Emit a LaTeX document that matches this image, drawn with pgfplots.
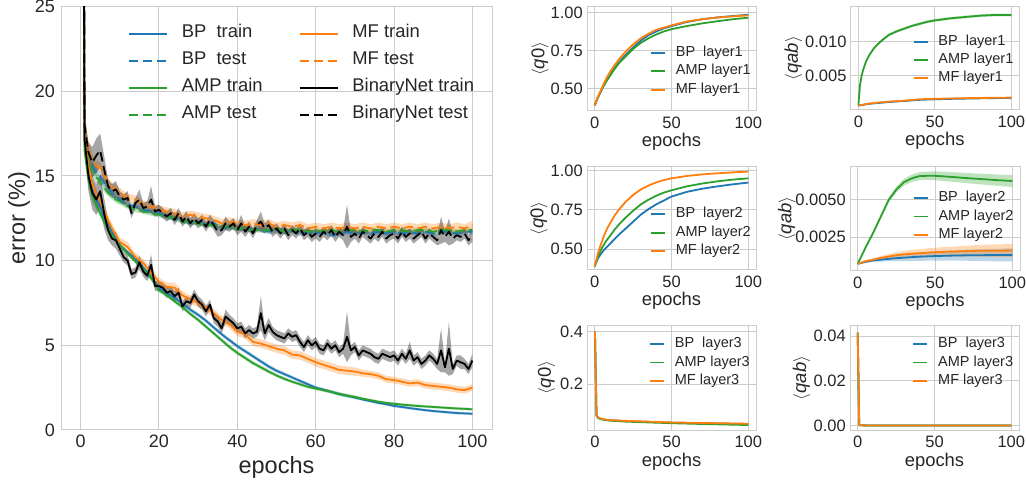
\documentclass[border=0pt]{standalone}
\usepackage{pgfplots}
\pgfplotsset{compat=1.18}
\usepackage{pgfplotstable}
\usepgfplotslibrary{fillbetween}
\usepackage{fontspec}
\setmainfont{Liberation Sans}
\definecolor{cBP}{HTML}{1F77B4}
\definecolor{cMF}{HTML}{FF7F0E}
\definecolor{cAMP}{HTML}{2CA02C}
\definecolor{gridc}{HTML}{CCCCCC}
\definecolor{tickc}{HTML}{262626}

% BinaryNet: epoch, train mean, train std, test mean, test std
\pgfplotstableread{
e tr trs te tes
0 90 0 90 0
1 17.2 0.8 18.0 0.8
2 15.0 0.9 16.4 0.6
3 14.0 1.0 15.8 0.9
4 13.6 0.9 16.2 1.0
5 14.1 1.0 16.5 1.0
6 12.8 0.9 15.4 0.8
7 11.8 0.6 14.4 0.4
8 11.3 0.4 14.1 0.4
9 11.2 0.5 14.2 0.5
10 10.7 0.4 13.8 0.3
11 10.2 0.3 13.6 0.3
12 10.0 0.3 13.7 0.4
13 9.2 0.3 12.8 0.3
14 9.3 0.3 13.4 0.3
15 9.9 0.4 13.6 0.6
16 9.35 0.3 13.1 0.3
17 9.1 0.3 13.2 0.3
18 9.75 0.6 13.6 0.8
19 8.5 0.3 12.9 0.3
20 8.5 0.3 13.0 0.3
21 8.4 0.3 12.8 0.3
22 8.1 0.3 12.6 0.3
23 8.2 0.3 12.8 0.3
24 7.9 0.3 12.4 0.3
25 8.1 0.3 12.8 0.3
26 7.3 0.3 12.3 0.3
27 7.6 0.3 12.6 0.3
28 7.5 0.3 12.2 0.3
29 8.0 0.3 12.5 0.3
30 7.6 0.3 12.2 0.3
31 7.4 0.3 12.4 0.3
32 7.0 0.3 12.0 0.3
33 7.4 0.3 12.4 0.3
34 6.6 0.3 12.1 0.3
35 6.4 0.3 11.7 0.3
36 6.0 0.3 11.8 0.3
37 6.7 0.4 12.2 0.4
38 6.5 0.3 12.0 0.3
39 6.3 0.3 12.2 0.3
40 6.0 0.3 11.8 0.3
41 6.1 0.3 12.2 0.5
42 5.7 0.3 11.7 0.3
43 5.9 0.3 12.0 0.3
44 5.7 0.3 11.6 0.3
45 5.8 0.3 12.1 0.3
46 6.9 1.0 12.3 0.6
47 5.7 0.4 11.9 0.3
48 6.2 0.4 12.1 0.3
49 5.8 0.3 11.7 0.3
50 5.6 0.3 11.9 0.3
51 5.5 0.3 11.6 0.3
52 5.4 0.3 11.9 0.3
53 5.7 0.3 11.5 0.3
54 5.5 0.3 11.8 0.3
55 5.6 0.3 11.6 0.3
56 5.2 0.3 11.9 0.3
57 4.9 0.3 11.5 0.3
58 5.3 0.3 11.7 0.3
59 5.0 0.3 11.4 0.3
60 5.2 0.3 11.6 0.3
61 4.8 0.3 11.4 0.3
62 4.7 0.3 11.7 0.3
63 5.1 0.3 11.5 0.3
64 4.8 0.3 11.8 0.3
65 5.0 0.3 11.4 0.3
66 4.6 0.3 11.7 0.3
67 4.8 0.3 11.5 0.3
68 5.5 1.5 12.0 1.3
69 4.7 0.3 11.4 0.3
70 4.9 0.3 11.6 0.3
71 4.4 0.3 11.3 0.3
72 4.7 0.3 11.7 0.3
73 4.6 0.3 11.5 0.3
74 4.5 0.3 11.3 0.3
75 4.3 0.3 11.6 0.3
76 4.2 0.3 11.4 0.3
77 4.5 0.3 11.7 0.3
78 4.4 0.3 11.3 0.3
79 4.3 0.3 11.5 0.3
80 4.4 0.3 11.6 0.3
81 4.1 0.3 11.3 0.3
82 4.5 0.3 11.7 0.3
83 4.2 0.3 11.4 0.3
84 4.7 0.5 11.6 0.3
85 4.1 0.3 11.3 0.3
86 4.3 0.3 11.5 0.3
87 3.9 0.3 11.7 0.3
88 4.1 0.3 11.3 0.3
89 4.4 0.3 11.6 0.3
90 4.2 0.3 11.4 0.3
91 3.9 0.3 11.2 0.3
92 4.7 1.3 11.8 0.8
93 3.7 0.3 11.4 0.3
94 4.8 1.6 11.7 0.8
95 3.6 0.3 11.3 0.3
96 4.1 0.3 11.5 0.3
97 4.0 0.4 11.4 0.3
98 3.9 0.3 11.6 0.3
99 3.6 0.3 11.2 0.3
100 4.1 0.4 11.5 0.4
}\bnet

\pgfplotstableread{
e tr trs te tes
0 90 0 90 0
1 17.0 0.4 17.8 0.4
2 15.2 0.35 16.3 0.35
3 14.2 0.3 15.6 0.3
4 13.6 0.3 15.2 0.3
5 13.2 0.25 15.0 0.25
6 12.6 0.2 14.6 0.25
7 12.1 0.2 14.3 0.2
8 11.7 0.2 14.0 0.2
9 11.3 0.15 13.8 0.2
10 10.9 0.15 13.6 0.2
12 10.5 0.12 13.3 0.15
14 10.1 0.12 13.2 0.15
16 9.6 0.12 13.0 0.15
18 9.0 0.12 12.9 0.15
20 8.4 0.12 12.8 0.15
22 8.1 0.12 12.6 0.15
24 7.8 0.12 12.5 0.15
26 7.45 0.12 12.4 0.15
28 7.1 0.12 12.2 0.15
30 6.8 0.12 12.3 0.15
32 6.45 0.12 12.1 0.15
34 6.05 0.12 12.2 0.15
36 5.65 0.12 11.9 0.15
38 5.3 0.12 12.0 0.15
40 4.95 0.12 11.9 0.15
42 4.65 0.12 11.9 0.15
44 4.35 0.12 11.8 0.15
46 4.05 0.12 11.9 0.15
48 3.75 0.12 11.7 0.15
50 3.5 0.12 11.8 0.15
52 3.3 0.1 11.7 0.15
54 3.1 0.1 11.8 0.15
56 2.9 0.1 11.6 0.15
58 2.7 0.1 11.7 0.15
60 2.5 0.1 11.6 0.15
62 2.38 0.1 11.7 0.15
64 2.25 0.1 11.5 0.15
66 2.12 0.1 11.6 0.15
68 2.02 0.1 11.7 0.15
70 1.92 0.1 11.6 0.15
72 1.8 0.08 11.7 0.15
74 1.7 0.08 11.6 0.15
76 1.6 0.08 11.7 0.15
78 1.52 0.08 11.6 0.15
80 1.42 0.08 11.7 0.15
82 1.36 0.08 11.6 0.15
84 1.29 0.08 11.7 0.15
86 1.23 0.08 11.6 0.15
88 1.17 0.08 11.7 0.15
90 1.12 0.08 11.6 0.15
92 1.08 0.08 11.7 0.15
94 1.04 0.08 11.7 0.15
96 1.0 0.08 11.6 0.15
98 0.98 0.08 11.7 0.15
100 0.96 0.08 11.7 0.15
}\bp

\pgfplotstableread{
e tr trs te tes
0 90 0 90 0
1 16.5 0.4 17.5 0.4
2 14.8 0.35 16.0 0.35
3 13.8 0.3 15.3 0.3
4 13.3 0.3 14.9 0.3
5 12.8 0.25 14.7 0.25
6 12.3 0.2 14.3 0.25
7 11.9 0.2 14.0 0.2
8 11.5 0.2 13.8 0.2
9 11.2 0.15 13.6 0.2
10 10.9 0.15 13.5 0.2
12 10.4 0.12 13.2 0.15
14 9.95 0.12 13.0 0.15
16 9.5 0.12 12.9 0.15
18 8.95 0.12 12.8 0.15
20 8.25 0.12 12.7 0.15
22 7.95 0.12 12.6 0.15
24 7.6 0.12 12.5 0.15
26 7.25 0.12 12.3 0.15
28 6.85 0.12 12.3 0.15
30 6.5 0.12 12.2 0.15
32 6.1 0.12 12.1 0.15
34 5.7 0.12 12.1 0.15
36 5.3 0.12 12.0 0.15
38 4.9 0.12 12.0 0.15
40 4.55 0.12 11.9 0.15
42 4.25 0.12 11.9 0.15
44 3.95 0.12 11.8 0.15
46 3.7 0.12 11.8 0.15
48 3.45 0.12 11.8 0.15
50 3.22 0.1 11.9 0.15
52 3.02 0.1 11.7 0.15
54 2.85 0.1 11.8 0.15
56 2.7 0.1 11.8 0.15
58 2.55 0.1 11.7 0.15
60 2.45 0.1 11.8 0.15
62 2.35 0.1 11.7 0.15
64 2.25 0.1 11.8 0.15
66 2.13 0.1 11.7 0.15
68 2.03 0.1 11.8 0.15
70 1.95 0.1 11.8 0.15
72 1.85 0.08 11.7 0.15
74 1.76 0.08 11.8 0.15
76 1.67 0.08 11.8 0.15
78 1.6 0.08 11.7 0.15
80 1.55 0.08 11.8 0.15
82 1.5 0.08 11.8 0.15
84 1.46 0.08 11.7 0.15
86 1.42 0.08 11.8 0.15
88 1.39 0.08 11.8 0.15
90 1.36 0.08 11.7 0.15
92 1.33 0.08 11.8 0.15
94 1.3 0.08 11.8 0.15
96 1.27 0.08 11.7 0.15
98 1.25 0.08 11.8 0.15
100 1.22 0.08 11.8 0.15
}\amp

\pgfplotstableread{
e tr trs te tes
0 90 0 90 0
1 17.5 0.5 18.0 0.5
2 15.6 0.4 16.6 0.4
3 14.5 0.35 15.9 0.35
4 13.9 0.3 15.6 0.3
5 13.5 0.3 15.5 0.3
6 12.9 0.3 15.0 0.3
7 12.4 0.3 14.6 0.3
8 11.9 0.3 14.3 0.3
9 11.5 0.25 14.2 0.3
10 11.1 0.25 14.0 0.3
12 10.8 0.3 13.7 0.25
14 10.2 0.25 13.6 0.25
16 9.85 0.25 13.3 0.25
18 9.3 0.25 13.2 0.25
20 8.75 0.25 13.0 0.25
22 8.45 0.25 12.9 0.25
24 8.4 0.3 12.8 0.25
26 7.95 0.25 12.6 0.25
28 7.7 0.25 12.7 0.25
30 7.5 0.25 12.6 0.25
32 7.2 0.25 12.5 0.25
34 6.9 0.25 12.4 0.25
36 6.5 0.25 12.2 0.25
38 6.25 0.25 12.3 0.25
40 5.8 0.25 12.2 0.25
42 5.65 0.25 12.1 0.25
44 5.2 0.25 12.2 0.25
46 5.1 0.25 12.1 0.25
48 4.95 0.25 12.2 0.25
50 4.8 0.25 12.0 0.25
52 4.7 0.25 12.1 0.25
54 4.45 0.25 12.0 0.25
56 4.4 0.25 12.1 0.25
58 4.2 0.25 11.9 0.25
60 4.0 0.25 12.0 0.25
62 3.85 0.25 11.9 0.25
64 3.7 0.25 12.0 0.25
66 3.55 0.25 11.9 0.25
68 3.5 0.25 12.0 0.25
70 3.45 0.25 11.9 0.25
72 3.35 0.2 12.0 0.25
74 3.3 0.2 11.9 0.25
76 3.2 0.2 12.0 0.25
78 3.0 0.2 11.9 0.25
80 2.95 0.2 12.0 0.25
82 2.85 0.2 11.9 0.25
84 2.75 0.2 12.0 0.25
86 2.8 0.2 11.9 0.25
88 2.65 0.2 12.0 0.25
90 2.6 0.2 11.9 0.25
92 2.55 0.2 12.0 0.25
94 2.5 0.2 11.9 0.25
96 2.4 0.2 12.0 0.25
98 2.35 0.2 11.9 0.25
100 2.5 0.2 12.1 0.25
}\mf

% q0 layer 1
\pgfplotstableread{
e bp amp mf
0 0.39 0.39 0.39
2 0.44 0.44 0.445
4 0.485 0.48 0.49
6 0.525 0.52 0.535
8 0.56 0.555 0.575
10 0.59 0.585 0.61
13 0.635 0.63 0.655
16 0.675 0.67 0.695
20 0.72 0.71 0.74
25 0.77 0.76 0.79
30 0.815 0.80 0.83
35 0.85 0.83 0.86
40 0.875 0.855 0.885
45 0.895 0.875 0.90
50 0.91 0.89 0.915
60 0.937 0.91 0.94
70 0.955 0.928 0.955
80 0.967 0.942 0.966
90 0.976 0.955 0.974
100 0.984 0.965 0.98
}\qa

% qab layer 1
\pgfplotstableread{
e bp amp amps mf
0 0.0007 0.0007 0 0.0007
1 0.00072 0.0035 0.0001 0.00073
2 0.00075 0.0049 0.00015 0.00076
3 0.00078 0.0058 0.00015 0.0008
5 0.00088 0.0071 0.0002 0.0009
7 0.00094 0.0080 0.0002 0.00098
10 0.001 0.0090 0.0002 0.00105
13 0.00106 0.0097 0.0002 0.00112
16 0.00112 0.0103 0.0002 0.00119
20 0.0012 0.0110 0.0002 0.00126
25 0.00128 0.0115 0.0002 0.00133
30 0.00135 0.0119 0.0002 0.0014
35 0.00144 0.0123 0.0002 0.0015
40 0.00152 0.0126 0.0002 0.0016
45 0.00156 0.0129 0.0002 0.00164
50 0.0016 0.0131 0.0002 0.00167
60 0.00166 0.0134 0.0002 0.00172
70 0.0017 0.0136 0.0002 0.00176
80 0.00174 0.0138 0.0002 0.0018
90 0.00177 0.0139 0.0002 0.00182
100 0.0018 0.0139 0.0002 0.00185
}\qb

% q0 layer 2
\pgfplotstableread{
e bp amp mf
0 0.39 0.39 0.39
2 0.44 0.45 0.47
4 0.47 0.495 0.53
6 0.495 0.53 0.585
8 0.515 0.56 0.63
10 0.535 0.585 0.665
13 0.565 0.625 0.715
16 0.595 0.66 0.755
20 0.63 0.70 0.80
25 0.675 0.745 0.845
30 0.72 0.785 0.88
35 0.755 0.815 0.905
40 0.785 0.84 0.925
45 0.81 0.86 0.94
50 0.835 0.875 0.951
60 0.865 0.90 0.966
70 0.885 0.918 0.976
80 0.90 0.932 0.983
90 0.913 0.943 0.989
100 0.924 0.951 0.994
}\qc

% qab layer 2
\pgfplotstableread{
e bp bps amp amps mf mfs
0 0.00072 0 0.00072 0 0.00072 0
5 0.00085 0.00005 0.0018 0.00006 0.0009 0.00005
10 0.00095 0.0001 0.0028 0.0001 0.001 0.0001
15 0.001 0.00013 0.0039 0.00013 0.00112 0.00013
20 0.00105 0.00016 0.0050 0.00016 0.00121 0.00016
25 0.0011 0.0002 0.0057 0.0002 0.0013 0.0002
30 0.00113 0.00022 0.0062 0.00023 0.00136 0.00022
35 0.00117 0.00025 0.00645 0.00025 0.0014 0.00025
40 0.0012 0.00028 0.0066 0.00027 0.00143 0.00028
45 0.00122 0.00029 0.00662 0.00028 0.00147 0.00029
50 0.00124 0.0003 0.00662 0.0003 0.0015 0.0003
60 0.00127 0.00033 0.00655 0.00032 0.00154 0.00033
70 0.00129 0.00036 0.00647 0.00034 0.00157 0.00036
80 0.0013 0.0004 0.0064 0.00036 0.0016 0.0004
90 0.00131 0.00042 0.00633 0.00038 0.0016 0.00042
100 0.00132 0.00044 0.00627 0.0004 0.00161 0.00044
}\qd

% q0 layer 3
\pgfplotstableread{
e bp amp mf
0 0.40 0.40 0.40
1 0.08 0.08 0.08
2 0.071 0.07 0.072
4 0.066 0.065 0.067
7 0.063 0.062 0.064
10 0.061 0.060 0.062
20 0.058 0.056 0.059
30 0.056 0.054 0.057
50 0.052 0.050 0.053
70 0.050 0.047 0.051
100 0.047 0.043 0.048
}\qe

% qab layer 3
\pgfplotstableread{
e bp amp mf
0 0.0415 0.0415 0.0415
1 0.0002 0.0002 0.0002
10 0.0001 0.0001 0.0001
100 0.0001 0.0001 0.0001
}\qf

\newcommand{\band}[6]{%
  \addplot[draw=none, forget plot, name path=#6u] table[x=e, y expr=\thisrow{#2}+\thisrow{#3}] {#1};
  \addplot[draw=none, forget plot, name path=#6l] table[x=e, y expr=\thisrow{#2}-\thisrow{#3}] {#1};
  \addplot[fill=#4, fill opacity=#5, draw=none, forget plot] fill between[of=#6u and #6l];
}

\pgfplotsset{
  sb/.style={
    scale only axis,
    axis line style={gridc, line width=1bp},
    grid=major,
    major grid style={gridc, line width=1bp},
    major tick length=0pt,
    tick style={draw=none},
    scaled ticks=false,
    /pgf/number format/assume math mode=true,
    ticklabel style={text=tickc},
    label style={text=tickc},
    every axis plot/.append style={line join=round},
  },
  small/.style={
    sb,
    xmin=-5, xmax=105,
    xtick={0,50,100},
    xticklabel style={font=\fontsize{16.5bp}{16.5bp}\selectfont, anchor=north, inner sep=0pt, yshift=-6bp},
    yticklabel style={font=\fontsize{16.5bp}{16.5bp}\selectfont, anchor=east, inner sep=0pt, xshift=-4bp},
    xlabel={epochs},
    xlabel style={font=\fontsize{18.4bp}{18.4bp}\selectfont, at={(axis description cs:0.5,0)}, anchor=base, yshift=-36bp},
    ylabel style={font=\fontsize{18.5bp}{18.5bp}\selectfont, anchor=center},
    legend style={draw=none, fill=none, anchor=north west, inner sep=0pt, outer sep=0pt,
      font=\fontsize{14.5bp}{14.5bp}\selectfont, text=tickc,
      nodes={inner sep=0bp, text height=10bp, text depth=3bp},
      /tikz/every odd column/.append style={column sep=10bp},
      row sep=5.3bp},
    legend cell align=left,
    legend image code/.code={\draw[##1] (0bp,0bp) -- (14bp,0bp);},
    every axis plot/.append style={line width=1.8bp},
  },
}

\begin{document}
\begin{tikzpicture}

% ---------------- main panel ----------------
\begin{axis}[sb, at={(61bp,52bp)}, anchor=south west, width=431bp, height=423.5bp,
  xmin=-5, xmax=105, ymin=0, ymax=25,
  xtick={0,20,40,60,80,100}, ytick={0,5,10,15,20,25},
  xticklabel style={font=\fontsize{18bp}{18bp}\selectfont, anchor=north, inner sep=0pt, yshift=-5bp},
  yticklabel style={font=\fontsize{18bp}{18bp}\selectfont, anchor=east, inner sep=0pt, xshift=-6bp},
  xlabel={epochs}, ylabel={error (\%)},
  xlabel style={font=\fontsize{23.5bp}{23.5bp}\selectfont, at={(axis description cs:0.5,0)}, anchor=base, yshift=-43.3bp},
  ylabel style={font=\fontsize{23.5bp}{23.5bp}\selectfont, at={(axis description cs:-0.0974,0.5)}, anchor=center},
  legend style={draw=none, fill=none, at={(0.1555,0.954)}, anchor=north west, inner sep=0pt, outer sep=0pt,
    font=\fontsize{18.4bp}{18.4bp}\selectfont, text=tickc,
    nodes={inner sep=0bp, text height=12bp, text depth=4bp},
    /tikz/every odd column/.append style={column sep=14bp},
    /tikz/every even column/.append style={column sep=36bp},
    row sep=10.9bp},
  legend columns=2, legend cell align=left,
  legend image code/.code={\draw[#1] (0bp,0bp) -- (38bp,0bp);},
  every axis plot/.append style={line width=1.8bp},
]
\band{\bp}{tr}{trs}{cBP}{0.3}{bpa}
\addplot[cBP, forget plot] table[x=e, y=tr] {\bp};
\band{\bp}{te}{tes}{cBP}{0.3}{bpb}
\addplot[cBP, dash pattern=on 9.5bp off 4.5bp, forget plot] table[x=e, y=te] {\bp};
\band{\amp}{tr}{trs}{cAMP}{0.3}{ampa}
\addplot[cAMP, forget plot] table[x=e, y=tr] {\amp};
\band{\amp}{te}{tes}{cAMP}{0.3}{ampb}
\addplot[cAMP, dash pattern=on 9.5bp off 4.5bp, forget plot] table[x=e, y=te] {\amp};
\band{\mf}{tr}{trs}{cMF}{0.3}{mfa}
\addplot[cMF, forget plot] table[x=e, y=tr] {\mf};
\band{\mf}{te}{tes}{cMF}{0.3}{mfb}
\addplot[cMF, dash pattern=on 9.5bp off 4.5bp, forget plot] table[x=e, y=te] {\mf};
\band{\bnet}{tr}{trs}{black}{0.35}{bna}
\addplot[black, forget plot] table[x=e, y=tr] {\bnet};
\band{\bnet}{te}{tes}{black}{0.35}{bnb}
\addplot[black, dash pattern=on 9.5bp off 4.5bp, forget plot] table[x=e, y=te] {\bnet};

\addlegendimage{cBP, line width=1.8bp}\addlegendentry{BP\ \ train}
\addlegendimage{cMF, line width=1.8bp}\addlegendentry{MF train}
\addlegendimage{cBP, line width=1.8bp, dash pattern=on 9.5bp off 4.5bp}\addlegendentry{BP\ \ test}
\addlegendimage{cMF, line width=1.8bp, dash pattern=on 9.5bp off 4.5bp}\addlegendentry{MF test}
\addlegendimage{cAMP, line width=1.8bp}\addlegendentry{AMP train}
\addlegendimage{black, line width=1.8bp}\addlegendentry{BinaryNet train}
\addlegendimage{cAMP, line width=1.8bp, dash pattern=on 9.5bp off 4.5bp}\addlegendentry{AMP test}
\addlegendimage{black, line width=1.8bp, dash pattern=on 9.5bp off 4.5bp}\addlegendentry{BinaryNet test}
\end{axis}

% ---------------- q0 layer1 ----------------
\begin{axis}[small, at={(587bp,371bp)}, anchor=south west, width=169bp, height=104.3bp,
  ymin=0.354, ymax=1.037, ytick={0.5,0.75,1.0}, yticklabels={0.50,0.75,1.00},
  ylabel={$\langle$\textit{q}0$\rangle$},
  ylabel style={at={(axis description cs:-0.278,0.5)}},
  legend style={at={(0.373,0.618)}}]
\addplot[cBP] table[x=e, y=bp] {\qa}; \addlegendentry{BP\ \ layer1}
\addplot[cAMP] table[x=e, y=amp] {\qa}; \addlegendentry{AMP layer1}
\addplot[cMF] table[x=e, y=mf] {\qa}; \addlegendentry{MF layer1}
\end{axis}

% ---------------- qab layer1 ----------------
\begin{axis}[small, at={(850.7bp,372bp)}, anchor=south west, width=168.3bp, height=103.3bp,
  ymin=0.00004, ymax=0.0151, ytick={0.005,0.010}, yticklabels={0.005,0.010},
  ylabel={$\langle$\textit{qab}$\rangle$},
  ylabel style={at={(axis description cs:-0.341,0.5)}},
  legend style={at={(0.368,0.724)}}]
\band{\qb}{amp}{amps}{cAMP}{0.3}{qba}
\addplot[cBP] table[x=e, y=bp] {\qb}; \addlegendentry{BP\ \ layer1}
\addplot[cAMP] table[x=e, y=amp] {\qb}; \addlegendentry{AMP layer1}
\addplot[cMF] table[x=e, y=mf] {\qb}; \addlegendentry{MF layer1}
\end{axis}

% ---------------- q0 layer2 ----------------
\begin{axis}[small, at={(587bp,212bp)}, anchor=south west, width=169bp, height=103.3bp,
  ymin=0.368, ymax=1.025, ytick={0.5,0.75,1.0}, yticklabels={0.50,0.75,1.00},
  ylabel={$\langle$\textit{q}0$\rangle$},
  ylabel style={at={(axis description cs:-0.284,0.5)}},
  legend style={at={(0.373,0.602)}}]
\addplot[cBP] table[x=e, y=bp] {\qc}; \addlegendentry{BP\ \ layer2}
\addplot[cAMP] table[x=e, y=amp] {\qc}; \addlegendentry{AMP layer2}
\addplot[cMF] table[x=e, y=mf] {\qc}; \addlegendentry{MF layer2}
\end{axis}

% ---------------- qab layer2 ----------------
\begin{axis}[small, at={(850bp,211.3bp)}, anchor=south west, width=170bp, height=104bp,
  ymin=0.00026, ymax=0.00723, ytick={0.0025,0.005}, yticklabels={0.0025,0.0050},
  ylabel={$\langle$\textit{qab}$\rangle$},
  ylabel style={at={(axis description cs:-0.372,0.5)}},
  legend style={at={(0.369,0.759)}}]
\band{\qd}{bp}{bps}{cBP}{0.3}{qda}
\band{\qd}{amp}{amps}{cAMP}{0.3}{qdb}
\band{\qd}{mf}{mfs}{cMF}{0.3}{qdc}
\addplot[cBP] table[x=e, y=bp] {\qd}; \addlegendentry{BP\ \ layer2}
\addplot[cAMP] table[x=e, y=amp] {\qd}; \addlegendentry{AMP layer2}
\addplot[cMF] table[x=e, y=mf] {\qd}; \addlegendentry{MF layer2}
\end{axis}

% ---------------- q0 layer3 ----------------
\begin{axis}[small, at={(587.3bp,52bp)}, anchor=south west, width=168.7bp, height=104bp,
  ymin=0.024, ymax=0.422, ytick={0.2,0.4}, yticklabels={0.2,0.4},
  ylabel={$\langle$\textit{q}0$\rangle$},
  ylabel style={at={(axis description cs:-0.241,0.5)}},
  legend style={at={(0.366,0.887)}}]
\addplot[cBP] table[x=e, y=bp] {\qe}; \addlegendentry{BP\ \ layer3}
\addplot[cAMP] table[x=e, y=amp] {\qe}; \addlegendentry{AMP layer3}
\addplot[cMF] table[x=e, y=mf] {\qe}; \addlegendentry{MF layer3}
\end{axis}

% ---------------- qab layer3 ----------------
\begin{axis}[small, at={(850bp,52bp)}, anchor=south west, width=169bp, height=104bp,
  ymin=-0.0019, ymax=0.0445, ytick={0,0.02,0.04}, yticklabels={0.00,0.02,0.04},
  ylabel={$\langle$\textit{qab}$\rangle$},
  ylabel style={at={(axis description cs:-0.286,0.5)}},
  legend style={at={(0.369,0.887)}}]
\addplot[cBP] table[x=e, y=bp] {\qf}; \addlegendentry{BP\ \ layer3}
\addplot[cAMP] table[x=e, y=amp] {\qf}; \addlegendentry{AMP layer3}
\addplot[cMF] table[x=e, y=mf] {\qf}; \addlegendentry{MF layer3}
\end{axis}
\pgfresetboundingbox
\path (0,0) rectangle (1026bp,482bp);
\end{tikzpicture}
\end{document}
